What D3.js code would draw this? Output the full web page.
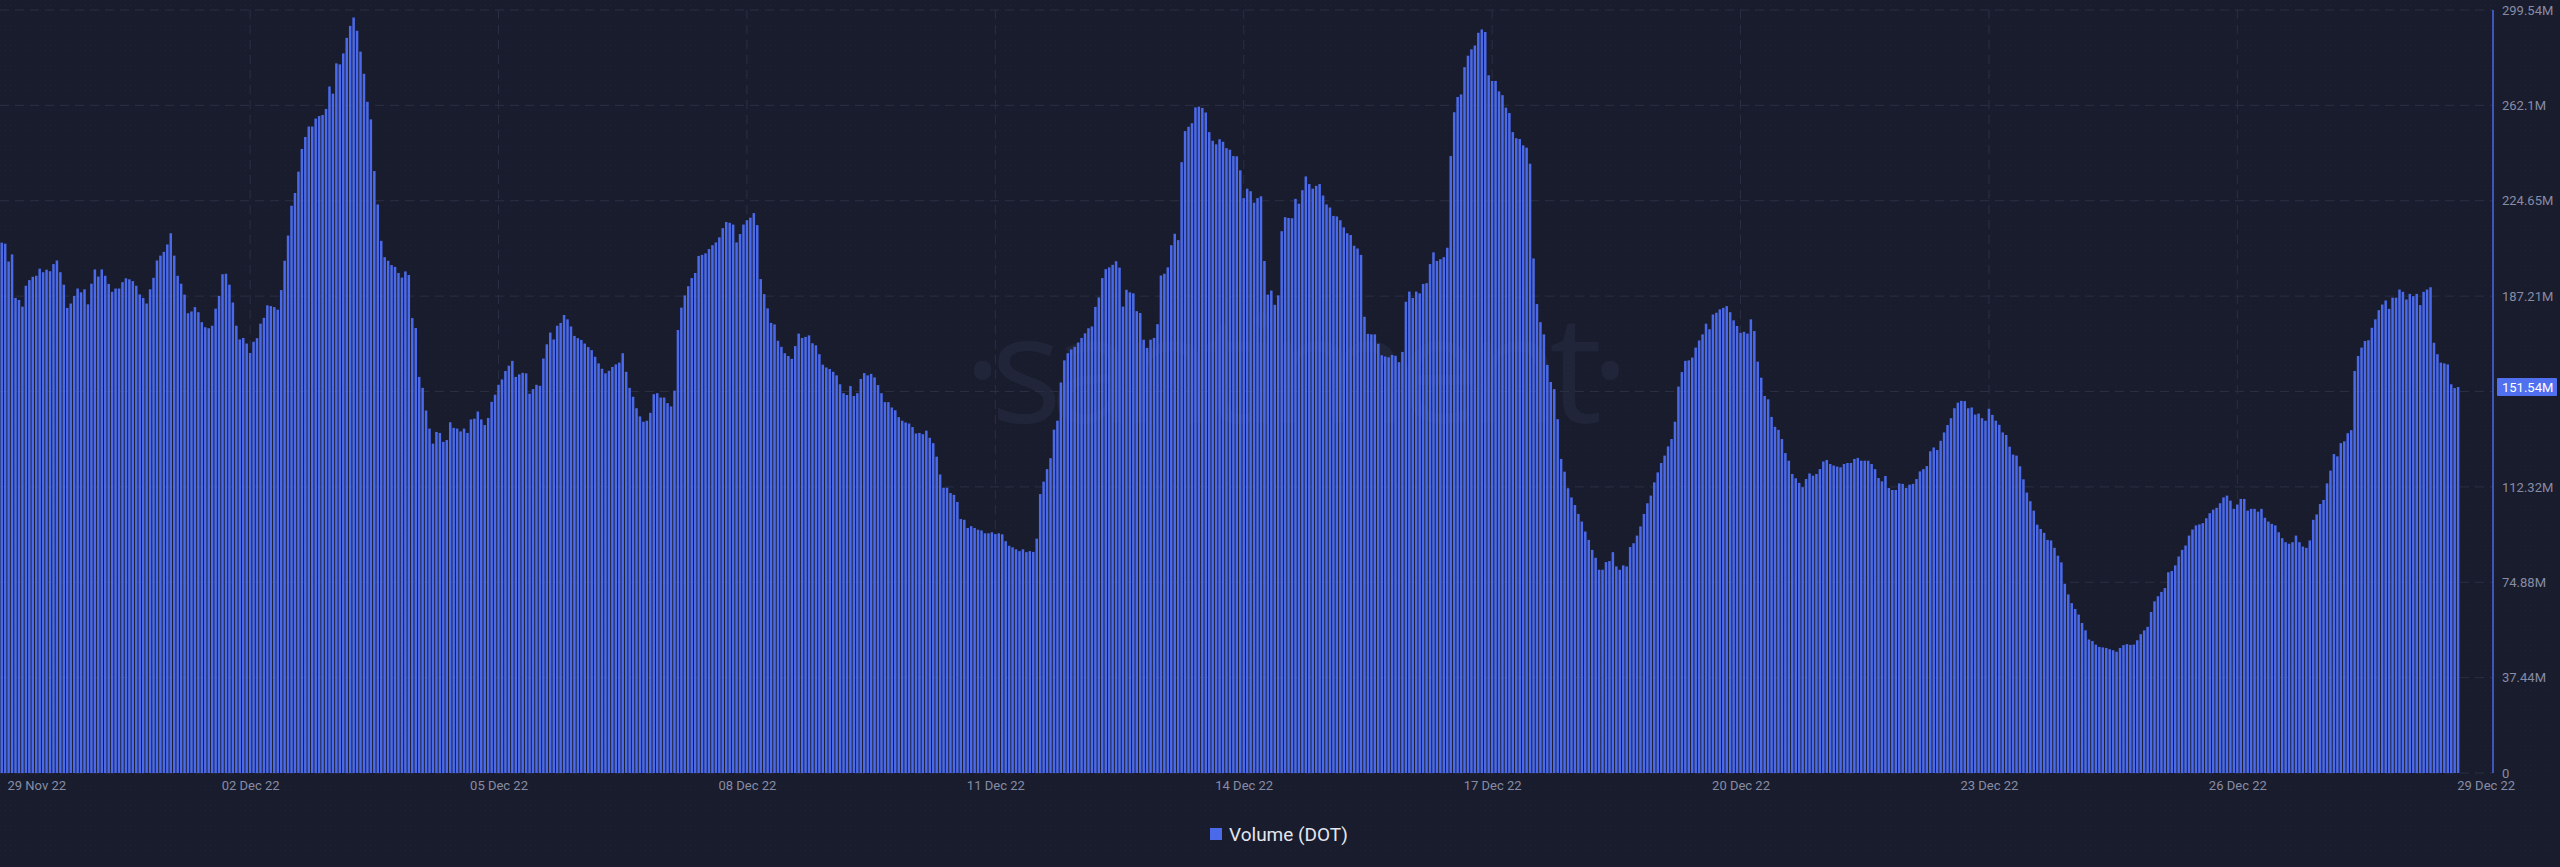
<!DOCTYPE html>
<html><head><meta charset="utf-8">
<script src="https://cdn.jsdelivr.net/npm/d3@7"></script>
<style>html,body{margin:0;padding:0;background:#191c2c;overflow:hidden}</style>
</head><body><svg id="chart" width="2560" height="867"></svg>
<script>
// Hourly volume, millions of DOT, starting 29 Nov 2022 00:00
const startHourUTC = Date.UTC(2022, 10, 29, 0);
const volumePart1 = [208.2,207.8,200.8,203.6,186.5,185.7,183.1,191.3,193.5,194.8,195.2,198.0,196.6,197.6,197.0,199.8,201.2,196.6,191.7,182.6,184.3,187.3,190.2,188.7,189.9,184.0,192.1,197.7,194.9,197.7,195.2,192.0,188.9,190.2,190.2,192.7,194.2,193.8,193.1,191.3,187.9,186.5,184.3,189.9,194.4,201.2,203.1,204.6,207.5,211.9,203.1,195.2,192.1,187.8,180.5,181.2,182.9,180.9,177.0,175.0,174.6,175.6,182.3,187.3,195.8,196.0,191.7,184.7,175.6,170.2,170.8,168.6,164.9,169.3,170.7,176.4,178.7,183.6,183.3,182.9,181.9,189.6,201.1,211.0,222.7,227.7,236.1,245.0,249.7,253.8];
const volumePart2 = [253.8,256.9,257.9,258.3,260.7,269.5,266.7,278.6,278.2,282.5,288.6,293.3,296.6,291.4,283.2,274.5,263.5,256.6,236.3,223.2,208.9,202.5,201.1,199.4,198.7,196.3,194.5,196.9,195.5,178.6,174.7,155.5,151.2,142.3,135.2,129.3,133.9,133.5,130.0,130.7,137.7,135.5,135.2,134.1,135.2,133.5,138.8,139.1,141.9,138.8,136.6,139.4,145.7,148.5,152.4,154.5,157.8,159.9,161.8,155.5,156.5,157.1,156.9,148.9,150.7,152.4,152.0,162.7,168.3,172.9,170.2,175.6,176.7,179.8,178.1,175.3,171.6,170.7,170.0,168.6,167.2,166.0,163.4,160.8,158.7,156.9,157.9,159.4,160.4,161.1];
const volumePart3 = [164.8,157.5,151.2,147.7,143.2,140.0,137.9,138.3,141.4,148.7,149.1,147.4,147.4,145.2,143.9,150.1,173.9,182.7,187.5,191.1,194.3,196.3,203.0,203.4,204.0,205.7,207.2,208.3,210.3,213.9,216.3,216.0,215.3,208.3,211.6,215.3,217.0,218.0,219.8,215.1,193.9,188.0,182.4,176.7,176.1,169.7,167.3,164.8,163.7,162.6,167.6,172.5,170.8,171.2,171.8,168.7,167.9,164.4,160.3,159.2,158.6,157.5,156.1,152.6,149.1,148.4,151.9,148.0,149.1,154.7,157.0,156.1,156.7,155.3,152.3,149.1,145.6,145.6,143.5,142.4,139.7,138.3,137.6,137.2,135.8,133.3,133.5,133.0,134.4,131.6];
const volumePart4 = [129.5,124.2,117.2,112.0,112.0,109.9,109.2,106.4,99.7,99.4,96.2,96.9,96.2,95.5,95.2,94.1,94.1,94.5,93.8,94.1,93.7,91.0,89.2,88.6,87.8,87.1,87.8,86.7,87.1,86.8,92.0,109.5,114.4,119.3,123.6,134.8,138.3,153.3,162.0,164.8,166.3,167.3,169.0,170.8,172.6,174.6,175.3,183.0,186.7,194.3,197.8,198.5,199.5,200.9,198.4,183.1,189.7,188.7,188.3,181.3,180.6,170.1,166.9,170.1,170.8,176.2,195.3,196.0,198.5,207.2,211.7,209.2,239.8,252.0,253.7,255.1,261.3,261.6,261.1,259.3,251.6,248.2,246.8,248.8,247.8,245.3,244.7,242.2,242.1,236.6];
const volumePart5 = [225.7,229.4,228.4,223.9,225.7,226.4,201.0,187.8,189.4,183.8,187.5,212.7,218.2,217.9,217.8,225.4,223.5,228.8,234.2,231.2,229.4,230.5,231.2,226.7,223.2,222.0,218.7,218.5,217.0,214.2,211.9,211.2,207.0,205.9,203.4,179.1,172.4,172.2,172.2,168.5,164.0,163.5,163.2,164.1,163.8,161.3,165.3,185.0,189.0,186.5,189.0,188.3,192.0,192.3,199.8,204.4,201.0,201.7,202.5,206.2,242.2,259.4,265.4,266.4,277.1,281.6,284.1,285.6,290.6,291.9,290.9,273.9,271.7,271.7,267.6,266.1,261.2,259.1,251.6,249.2,248.9,246.4,245.5,239.2,202.0,184.1,177.0,172.2,160.2,153.5];
const volumePart6 = [150.7,138.9,123.3,118.3,111.8,108.2,105.2,101.7,98.7,94.8,91.5,87.6,84.5,79.8,79.8,82.8,83.2,86.7,81.1,79.8,81.5,81.1,88.7,90.2,93.2,96.8,101.7,105.9,108.9,114.1,118.0,121.7,124.6,128.2,131.1,137.9,151.7,157.4,161.8,162.0,163.1,167.0,169.8,172.2,176.4,174.2,180.0,180.7,182.0,182.6,183.3,180.9,177.7,175.5,172.8,173.2,172.5,178.1,173.5,161.5,155.2,148.0,146.7,139.8,135.9,134.7,131.1,125.6,122.6,117.4,115.7,113.9,112.2,115.4,117.6,116.7,117.4,119.3,122.3,122.9,121.3,120.7,120.3,120.0,121.3,121.7,121.7,123.3,123.7,122.6];
const volumePart7 = [122.6,122.6,121.3,119.3,115.8,114.5,116.6,111.9,111.1,111.1,113.7,113.5,111.9,113.2,113.5,115.4,118.4,119.3,120.5,126.3,127.8,126.8,130.4,133.7,136.6,139.3,143.2,145.4,146.1,146.0,143.2,143.5,140.7,141.1,139.3,138.3,143.0,140.6,138.3,136.7,133.7,132.7,128.1,125.0,124.6,120.4,115.3,110.1,106.7,103.0,97.5,95.8,94.3,91.5,91.3,88.4,85.3,82.7,74.3,70.1,66.7,64.4,62.2,58.9,56.0,52.4,51.8,50.4,49.5,49.3,49.1,48.6,48.2,47.6,49.1,50.2,50.6,50.3,50.4,52.1,54.5,56.0,57.4,63.2,67.4,69.4,71.1,72.6,78.8,79.3];
const volumePart8 = [81.5,85.0,87.6,89.3,93.2,95.6,97.2,97.6,98.1,100.0,102.0,103.4,104.1,105.9,108.2,108.9,106.9,103.7,105.4,107.6,107.6,103.0,103.7,103.7,102.6,103.7,100.2,98.7,97.8,97.2,94.5,92.2,90.6,90.0,90.6,93.2,90.6,88.9,88.4,91.3,99.4,101.5,105.6,107.2,113.7,118.7,125.2,124.3,129.5,130.2,133.4,134.6,157.8,163.7,167.0,169.6,169.9,174.8,178.1,181.7,183.9,185.5,182.2,186.6,186.6,189.8,188.9,185.9,188.1,187.2,188.1,183.7,188.9,189.8,190.7,168.9,164.4,161.1,160.8,160.4,152.6,151.1,151.54];

const yTickValues = [0, 37.44, 74.88, 112.32, 149.76, 187.21, 224.65, 262.1, 299.54];
const yTickLabels = ["0", "37.44M", "74.88M", "112.32M", "149.76M", "187.21M", "224.65M", "262.1M", "299.54M"];
const xTickDates = ["2022-11-29","2022-12-02","2022-12-05","2022-12-08","2022-12-11","2022-12-14","2022-12-17","2022-12-20","2022-12-23","2022-12-26","2022-12-29"];
const latestValue = 151.54;
const latestLabel = "151.54M";
const seriesName = "Volume (DOT)";
const watermarkText = "·santiment·";

const volume = [].concat(volumePart1, volumePart2, volumePart3, volumePart4, volumePart5, volumePart6, volumePart7, volumePart8);
const HOUR = 3600000;
const data = volume.map((v, i) => ({ t: new Date(startHourUTC + i * HOUR), v }));

const svg = d3.select("#chart");
const plotRight = 2493, plotTop = 10, plotBottom = 773;
const hourPx = 3.45;
const BLUE = "#4b6aea";
const GRID = "#2b2f45";
const TEXT = "#878ca6";

const x = d3.scaleUtc()
  .domain([new Date(startHourUTC - 0.5 * HOUR), new Date(startHourUTC + (plotRight / hourPx - 0.5) * HOUR)])
  .range([0, plotRight]);
const y = d3.scaleLinear().domain([0, 299.54]).range([plotBottom, plotTop]);

// background dot pattern
const defs = svg.append("defs");
const pat = defs.append("pattern").attr("id", "dots").attr("width", 5).attr("height", 5).attr("patternUnits", "userSpaceOnUse");
pat.append("rect").attr("width", 1).attr("height", 1).attr("fill", "#1e2133");
svg.append("rect").attr("width", 2560).attr("height", 867).attr("fill", "#191c2c");
svg.append("rect").attr("width", 2560).attr("height", 867).attr("fill", "url(#dots)");

// watermark
svg.append("text")
  .attr("x", 963).attr("y", 423)
  .attr("textLength", 667).attr("lengthAdjust", "spacing")
  .attr("font-family", "'Open Sans', sans-serif").attr("font-size", 150).attr("font-weight", 400)
  .attr("fill", "#212539")
  .text(watermarkText);

const xTicks = xTickDates.map(s => new Date(s + "T00:00:00Z"));

// gridlines
svg.append("g").selectAll("line").data(yTickValues).join("line")
  .attr("x1", 0).attr("x2", plotRight)
  .attr("y1", d => y(d)).attr("y2", d => y(d))
  .attr("stroke", GRID).attr("stroke-width", 1).attr("stroke-dasharray", "9,6");
svg.append("g").selectAll("line").data(xTicks.slice(1, -1)).join("line")
  .attr("x1", d => x(d)).attr("x2", d => x(d))
  .attr("y1", plotTop).attr("y2", plotBottom)
  .attr("stroke", GRID).attr("stroke-width", 1).attr("stroke-dasharray", "9,6");

// bars
const barW = 2.5;
svg.append("g").selectAll("rect").data(data).join("rect")
  .attr("x", d => x(d.t) - barW / 2)
  .attr("width", barW)
  .attr("y", d => y(d.v))
  .attr("height", d => y(0) - y(d.v))
  .attr("fill", BLUE);

// y axis
const yAxis = svg.append("g").attr("transform", `translate(${plotRight},0)`)
  .call(d3.axisRight(y).tickValues(yTickValues).tickFormat((d, i) => yTickLabels[i]).tickSize(0).tickPadding(9));
yAxis.select(".domain").remove();
yAxis.selectAll("text").attr("fill", TEXT).attr("font-family", "Roboto, sans-serif").attr("font-size", 13);
svg.append("line").attr("x1", plotRight).attr("x2", plotRight).attr("y1", plotTop).attr("y2", plotBottom)
  .attr("stroke", BLUE).attr("stroke-width", 1.5);

// latest value badge
const by = y(latestValue);
svg.append("rect").attr("x", 2497).attr("y", by - 9).attr("width", 60).attr("height", 18).attr("fill", "#5170f0").attr("rx", 1);
svg.append("text").attr("x", 2502).attr("y", by).attr("dy", "0.35em")
  .attr("fill", "#ffffff").attr("font-family", "Roboto, sans-serif").attr("font-size", 13).text(latestLabel);

// x axis
const xAxis = svg.append("g").attr("transform", `translate(0,${plotBottom})`)
  .call(d3.axisBottom(x).tickValues(xTicks).tickFormat(d3.utcFormat("%d %b %y")).tickSize(0).tickPadding(8));
xAxis.select(".domain").remove();
xAxis.selectAll("text").attr("fill", TEXT).attr("font-family", "Roboto, sans-serif").attr("font-size", 13);
xAxis.selectAll(".tick").filter((d, i) => i === 0).select("text")
  .attr("text-anchor", "start").attr("x", 7 - x(xTicks[0]));

// legend
const lg = svg.append("g");
lg.append("rect").attr("x", 1210).attr("y", 828).attr("width", 12).attr("height", 12).attr("fill", BLUE);
lg.append("text").attr("x", 1229).attr("y", 834).attr("dy", "0.35em")
  .attr("fill", "#e3e6f0").attr("font-family", "Roboto, sans-serif").attr("font-size", 19).text(seriesName);
</script>
</body></html>
